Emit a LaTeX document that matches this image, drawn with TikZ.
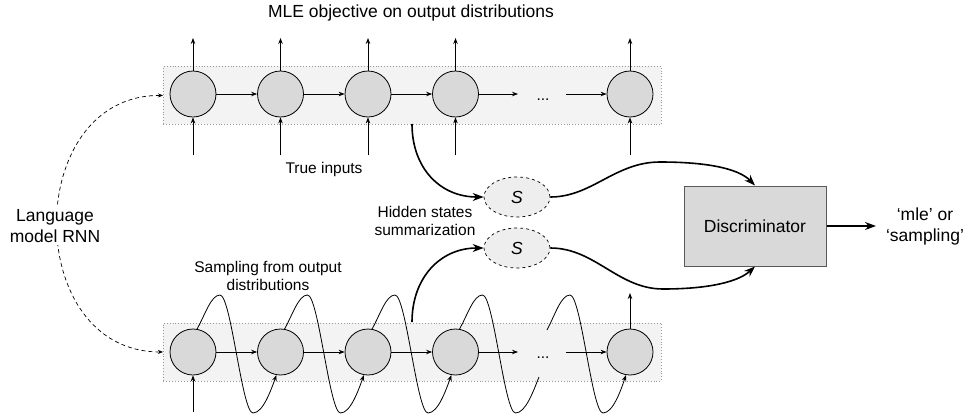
\documentclass[tikz,border=0pt]{standalone}
\usepackage{fontspec}
\setmainfont{Liberation Sans}
\usetikzlibrary{arrows.meta,shapes.geometric}

\definecolor{cellgray}{HTML}{D9D9D9}
\definecolor{boxgray}{HTML}{F3F3F3}
\definecolor{summgray}{HTML}{EEEEEE}
\definecolor{discedge}{HTML}{595959}

\newcommand\lblbig{\fontsize{17.5pt}{21pt}\selectfont}
\newcommand\lblsmall{\fontsize{15.5pt}{18pt}\selectfont}

\begin{document}
\begin{tikzpicture}[x=1pt,y=-1pt,
  cell/.style={circle,draw=black,fill=cellgray,minimum size=46pt,inner sep=0pt,line width=0.8pt},
  rowbox/.style={draw=gray!80,dotted,fill=boxgray,line width=0.9pt,anchor=north west,
                 minimum width=498pt,minimum height=58pt,inner sep=0pt},
  summ/.style={ellipse,draw=black,dashed,fill=summgray,minimum width=66pt,minimum height=40pt,
               inner sep=0pt,line width=0.7pt,font=\lblbig\itshape},
  disc/.style={rectangle,draw=discedge,fill=cellgray,line width=1pt,minimum width=142pt,
               minimum height=80pt,font=\lblbig},
  flow/.style={line width=0.8pt,-{Stealth[length=6pt,width=4.5pt]}},
  bigflow/.style={line width=1.6pt,-{Stealth[length=11pt,width=8pt]}},
  lmarc/.style={line width=0.7pt,dash pattern=on 4pt off 3pt,
                {Stealth[length=5pt,width=4pt]}-{Stealth[length=5pt,width=4pt]}},
  lbl/.style={font=\lblsmall,align=center,inner sep=1pt},
  biglbl/.style={font=\lblbig,align=center,inner sep=1pt}]

\useasboundingbox (0,0) rectangle (967,418);

% the two unrolled rows
\node[rowbox] (toprow) at (163,66) {};
\node[rowbox] (botrow) at (163,322.5) {};

% hidden-state cells
\foreach \n/\x in {1/193,2/280.5,3/368,4/455.5,6/630} {
  \node[cell] (t\n) at (\x,94) {};
  \node[cell] (b\n) at (\x,352) {};
}
\node[font=\lblsmall,inner sep=0pt,anchor=base] (tdots) at (543,100) {...};
\node[font=\lblsmall,inner sep=0pt,anchor=base] (bdots) at (543,358) {...};

% recurrent connections
\coordinate (t4e) at (518,94);
\coordinate (t5s) at (566,94);
\coordinate (b4e) at (518,352);
\coordinate (b5s) at (566,352);
\foreach \r in {t,b} {
  \draw[flow] (\r1) -- (\r2);
  \draw[flow] (\r2) -- (\r3);
  \draw[flow] (\r3) -- (\r4);
  \draw[flow] (\r4) -- (\r4e);
  \draw[flow] (\r5s) -- (\r6);
}

% top row: outputs and true inputs
\foreach \n/\x in {1/193,2/280.5,3/368,4/455.5,6/630} {
  \coordinate (to\n) at (\x,38);
  \coordinate (ti\n) at (\x,155);
  \draw[flow] (t\n) -- (to\n);
  \draw[flow] (ti\n) -- (t\n);
}

% bottom row: first input, last output
\coordinate (bi1) at (193,412);
\coordinate (bo6) at (630,293);
\draw[flow] (bi1) -- (b1);
\draw[flow] (b6) -- (bo6);

% sampled outputs fed back as next inputs
\foreach \xa/\na/\nb in {193/1/2,280.5/2/3,368/3/4} {
  \draw[flow] (b\na.80) .. controls ({\xa+12},315) and ({\xa+18},295) .. ({\xa+27},295)
     .. controls ({\xa+38},295) and ({\xa+49},413) .. ({\xa+60},413)
     .. controls ({\xa+70},413) and ({\xa+78},390) .. (b\nb.-100);
}
\coordinate (gapin) at (539,377);
\coordinate (gapout) at (547,330);
\draw[line width=0.8pt] (b4.80) .. controls (467.5,315) and (473.5,295) .. (482.5,295)
     .. controls (493.5,295) and (504.5,413) .. (515.5,413)
     .. controls (525.5,413) and (533,392) .. (gapin);
\draw[flow] (gapout) .. controls (555,315) and (561,295) .. (570,295)
     .. controls (581,295) and (592,413) .. (603,413)
     .. controls (613,413) and (621,390) .. (b6.-100);

% summarization of hidden states
\node[summ] (s1) at (517,197) {S};
\node[summ] (s2) at (517,248) {S};
\coordinate (tap1) at (412,124);
\coordinate (tap2) at (412,322);
\draw[bigflow] (tap1) .. controls (412,168) and (440,197) .. (s1.west);
\draw[bigflow] (tap2) .. controls (412,278) and (440,248) .. (s2.west);

% discriminator
\node[disc] (dsc) at (755,226) {Discriminator};
\draw[bigflow] (s1.east) .. controls (592,197) and (615,162) .. (660,162)
     .. controls (705,162) and (738,168) .. (dsc.north);
\draw[bigflow] (s2.east) .. controls (595,248) and (618,289) .. (663,289)
     .. controls (708,289) and (738,282) .. (dsc.south);
\node[biglbl] (verdict) at (925,226) {`mle' or\\`sampling'};
\coordinate (dscout) at (876,226);
\draw[bigflow] (dsc.east) -- (dscout);

% shared language model
\draw[lmarc] (toprow.west) .. controls (22,95) and (22,352) .. (botrow.west);
\node[biglbl,fill=white,inner sep=2pt] (lm) at (55,226) {Language\\model RNN};

% labels
\node[biglbl] (mle) at (411,13) {MLE objective on output distributions};
\node[lbl] (truein) at (324,169) {True inputs};
\node[lbl] (hidsum) at (425,221) {Hidden states\\summarization};
\node[lbl] (sampl) at (268,276) {Sampling from output\\distributions};
\end{tikzpicture}
\end{document}
